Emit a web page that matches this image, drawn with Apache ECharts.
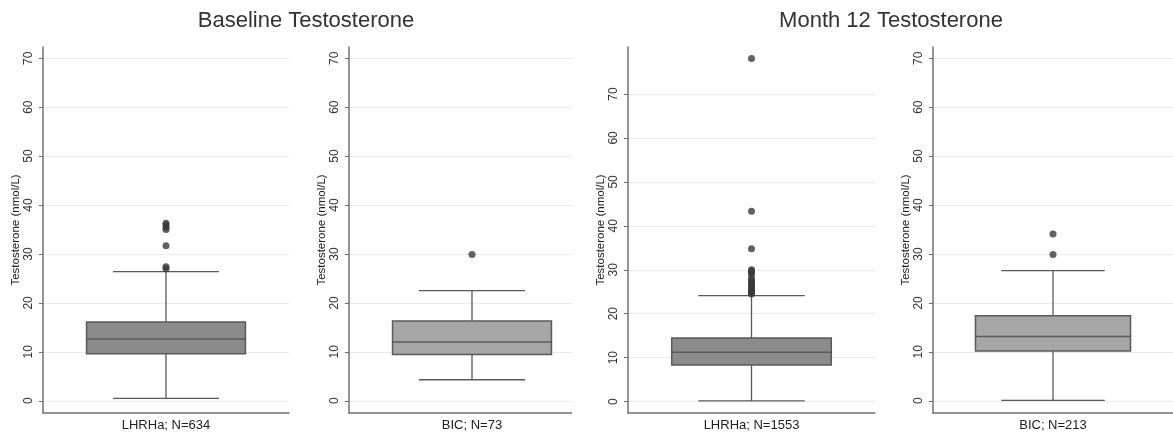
<!DOCTYPE html>
<html>
<head>
<meta charset="utf-8">
<script src="https://cdn.jsdelivr.net/npm/echarts@6/dist/echarts.min.js"></script>
<style>
html,body{margin:0;padding:0;background:#fff;}
#chart{width:1173px;height:432px;}
</style>
</head>
<body>
<div id="chart"></div>
<script>
// ---- data ----
const panelTitles = ['Baseline Testosterone', 'Month 12 Testosterone'];
const groupLabels = ['LHRHa; N=634', 'BIC; N=73', 'LHRHa; N=1553', 'BIC; N=213'];
const yAxisName = 'Testosterone (nmol/L)';
const yTickValues = [0, 10, 20, 30, 40, 50, 60, 70];
// [lower whisker, Q1, median, Q3, upper whisker]
const baselineLHRHa = [0.5, 9.6, 12.6, 16.1, 26.4];
const baselineBIC = [4.3, 9.45, 12.0, 16.3, 22.5];
const month12LHRHa = [0.15, 8.3, 11.25, 14.45, 24.1];
const month12BIC = [0.1, 10.15, 13.15, 17.35, 26.6];
const baselineLHRHaOutliers = [36.3, 35.9, 35.4, 35.0, 31.7, 27.4, 27.0];
const baselineBICOutliers = [29.9];
const month12LHRHaOutliers = [78.1, 43.3, 34.8, 30.0, 29.7, 29.4, 29.0, 28.0, 27.5, 27.1, 26.8, 26.4, 26.0, 25.7, 25.4, 25.1, 24.8, 24.5];
const month12BICOutliers = [34.1, 29.9];

const boxes = [baselineLHRHa, baselineBIC, month12LHRHa, month12BIC];
const outliers = [baselineLHRHaOutliers, baselineBICOutliers, month12LHRHaOutliers, month12BICOutliers];

// ---- layout / style ----
const gridLefts = [43, 349, 628, 933];
const gridWidths = [246, 246, 247, 246];
const yRanges = [[-2.5, 72.3], [-2.5, 72.3], [-2.6, 80.7], [-2.5, 72.3]];
const boxFills = ['#8b8b8b', '#a6a6a6', '#8b8b8b', '#a6a6a6'];
const lineColor = '#5a5a5a';
const FONT = 'Liberation Sans, Arial, Helvetica, sans-serif';

function makeRender(fill) {
  return function (params, api) {
    const x = api.value(0);
    const lo = api.coord([x, api.value(1)]);
    const q1 = api.coord([x, api.value(2)]);
    const md = api.coord([x, api.value(3)]);
    const q3 = api.coord([x, api.value(4)]);
    const hi = api.coord([x, api.value(5)]);
    const band = api.size([1, 0])[0];
    const bw = band * 0.646, cw = band * 0.431;
    const cx = lo[0];
    const ls = {stroke: lineColor, lineWidth: 1.3};
    return {type: 'group', children: [
      {type: 'line', shape: {x1: cx, y1: hi[1], x2: cx, y2: q3[1]}, style: ls},
      {type: 'line', shape: {x1: cx, y1: q1[1], x2: cx, y2: lo[1]}, style: ls},
      {type: 'line', shape: {x1: cx - cw / 2, y1: hi[1], x2: cx + cw / 2, y2: hi[1]}, style: ls},
      {type: 'line', shape: {x1: cx - cw / 2, y1: lo[1], x2: cx + cw / 2, y2: lo[1]}, style: ls},
      {type: 'rect', shape: {x: cx - bw / 2, y: q3[1], width: bw, height: q1[1] - q3[1]},
        style: {fill: fill, stroke: lineColor, lineWidth: 1.5}},
      {type: 'line', shape: {x1: cx - bw / 2, y1: md[1], x2: cx + bw / 2, y2: md[1]}, style: {stroke: lineColor, lineWidth: 1.5}}
    ]};
  };
}

const grids = [], xAxes = [], yAxes = [], series = [];
for (let i = 0; i < 4; i++) {
  grids.push({left: gridLefts[i], width: gridWidths[i], top: 47, bottom: 19});
  xAxes.push({
    type: 'category', gridIndex: i, data: [groupLabels[i]],
    axisLine: {onZero: false, lineStyle: {color: '#707070', width: 1.5}},
    axisTick: {show: false},
    axisLabel: {color: '#222', fontSize: 13, fontFamily: FONT, margin: 6},
    splitLine: {show: false}
  });
  yAxes.push({
    type: 'value', gridIndex: i, min: yRanges[i][0], max: yRanges[i][1],
    name: yAxisName, nameLocation: 'middle', nameGap: 19,
    nameTextStyle: {color: '#222', fontSize: 11.5, fontFamily: FONT},
    axisLine: {show: true, onZero: false, lineStyle: {color: '#707070', width: 1.5}},
    axisTick: {show: true, length: 4, lineStyle: {color: '#707070'}, customValues: yTickValues},
    axisLabel: {color: '#333', fontSize: 12, fontFamily: FONT, rotate: 90, margin: 8, customValues: yTickValues},
    splitLine: {show: true, lineStyle: {color: '#ebebeb', width: 1}}
  });
  series.push({
    type: 'custom', xAxisIndex: i, yAxisIndex: i,
    renderItem: makeRender(boxFills[i]),
    encode: {x: 0, y: [1, 2, 3, 4, 5]},
    data: [[0].concat(boxes[i])],
    z: 3
  });
  series.push({
    type: 'scatter', xAxisIndex: i, yAxisIndex: i,
    symbol: 'circle', symbolSize: 7,
    itemStyle: {color: '#3a3a3a'},
    data: outliers[i].map(v => [0, v]),
    z: 4
  });
}

const chart = echarts.init(document.getElementById('chart'), null, {renderer: 'canvas'});
chart.setOption({
  backgroundColor: '#fff',
  animation: false,
  title: [
    {text: panelTitles[0], left: 301, top: 5, textAlign: 'center',
      textStyle: {fontSize: 22, fontWeight: 'normal', color: '#333', fontFamily: FONT}},
    {text: panelTitles[1], left: 886, top: 5, textAlign: 'center',
      textStyle: {fontSize: 22, fontWeight: 'normal', color: '#333', fontFamily: FONT}}
  ],
  grid: grids,
  xAxis: xAxes,
  yAxis: yAxes,
  series: series,
  graphic: [
    {type: 'rect', left: 572, top: 40, shape: {width: 24, height: 380}, style: {fill: '#fff'}, z: 100}
  ]
});
</script>
</body>
</html>
